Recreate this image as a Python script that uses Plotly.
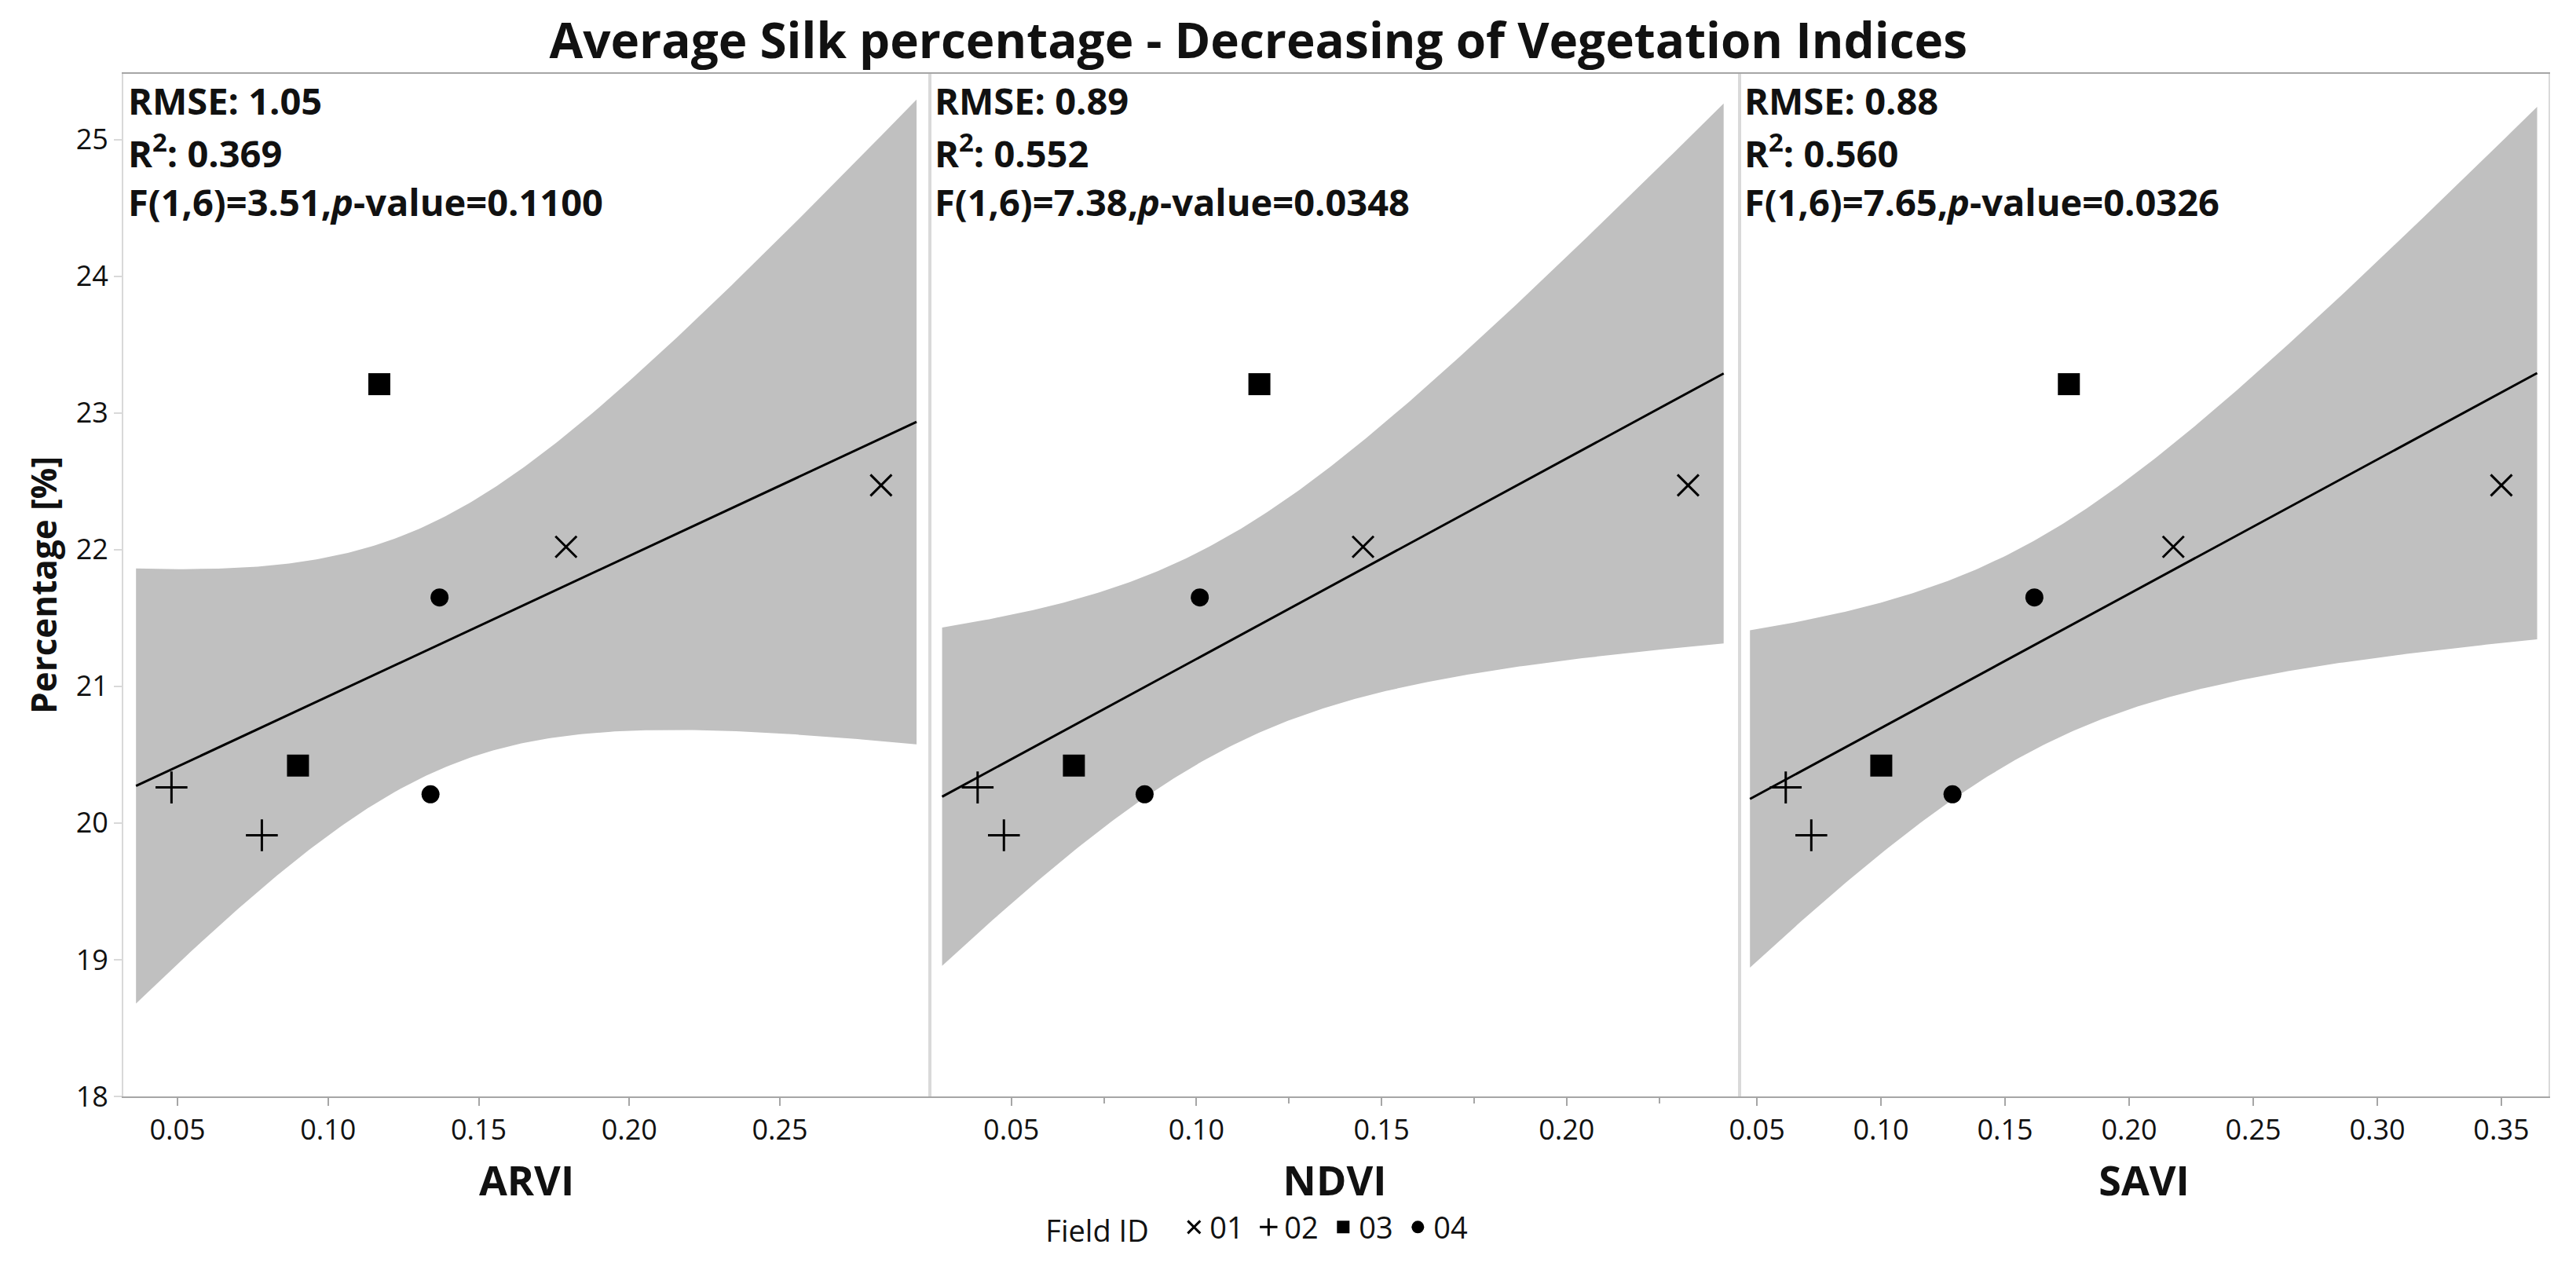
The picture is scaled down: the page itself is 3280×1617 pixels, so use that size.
import numpy as np
import plotly.graph_objects as go
from plotly.subplots import make_subplots

# ---------------- data ----------------
field_id = ["01", "01", "02", "02", "03", "03", "04", "04"]
silk_percentage = [22.47, 22.02, 20.26, 19.91, 23.21, 20.42, 21.65, 20.21]
arvi = [0.2836, 0.179, 0.048, 0.078, 0.117, 0.090, 0.137, 0.134]
ndvi = [0.2328, 0.145, 0.0409, 0.048, 0.117, 0.0669, 0.1009, 0.086]
savi = [0.350, 0.2178, 0.0616, 0.0719, 0.1757, 0.1001, 0.1618, 0.1288]

index_names = ["ARVI", "NDVI", "SAVI"]
rmse_txt = ["1.05", "0.89", "0.88"]
r2_txt = ["0.369", "0.552", "0.560"]
f_txt = ["3.51", "7.38", "7.65"]
p_txt = ["0.1100", "0.0348", "0.0326"]

fields = ["01", "02", "03", "04"]
x_ranges = [[0.032, 0.2998], [0.028, 0.2467], [0.043, 0.369]]
y_range = [18, 25.48]
y_ticks = [18, 19, 20, 21, 22, 23, 24, 25]

T_CRIT = 2.4469  # t(0.975, df=6)

# ---------------- styles ----------------
marker_style = {
    "01": dict(symbol="x-thin-open", size=27, line=dict(width=3, color="black"), color="black"),
    "02": dict(symbol="cross-thin-open", size=29, line=dict(width=3, color="black"), color="black"),
    "03": dict(symbol="square", size=28, color="black"),
    "04": dict(symbol="circle", size=23, color="black"),
}
FONT = "Open Sans"
TXT = "#111111"
AX_DARK = "#a6a6a6"
AX_LIGHT = "#d9d9d9"
BAND = "#c0c0c0"

W, H = 3280, 1617
ML, MR, MT, MB = 149, 43, 86, 229
plot_w = W - ML - MR
b1 = 1027 / plot_w
b2 = 2058 / plot_w

fig = make_subplots(rows=1, cols=3, shared_yaxes=False, horizontal_spacing=0)

xs_all = [arvi, ndvi, savi]
yv = np.array(silk_percentage)

for i, xs in enumerate(xs_all):
    col = i + 1
    xv = np.array(xs)
    n = len(xv)
    slope, intercept = np.polyfit(xv, yv, 1)
    resid = yv - (slope * xv + intercept)
    s = np.sqrt(np.sum(resid ** 2) / (n - 2))
    xbar = xv.mean()
    sxx = np.sum((xv - xbar) ** 2)
    span = xv.max() - xv.min()
    grid = np.linspace(xv.min() - 0.05 * span, xv.max() + 0.05 * span, 200)
    fit = slope * grid + intercept
    half = T_CRIT * s * np.sqrt(1.0 / n + (grid - xbar) ** 2 / sxx)

    fig.add_trace(go.Scatter(x=grid, y=fit - half, mode="lines", line=dict(width=0, color=BAND),
                             showlegend=False, hoverinfo="skip"), row=1, col=col)
    fig.add_trace(go.Scatter(x=grid, y=fit + half, mode="lines", line=dict(width=0, color=BAND),
                             fill="tonexty", fillcolor=BAND, showlegend=False, hoverinfo="skip"),
                  row=1, col=col)
    fig.add_trace(go.Scatter(x=grid, y=fit, mode="lines", line=dict(width=3, color="black"),
                             showlegend=False, hoverinfo="skip"), row=1, col=col)

    for f in fields:
        idx = [k for k, fid in enumerate(field_id) if fid == f]
        fig.add_trace(go.Scatter(
            x=[xs[k] for k in idx], y=[silk_percentage[k] for k in idx],
            mode="markers", name=f, legendgroup=f, showlegend=(i == 0),
            marker=marker_style[f]), row=1, col=col)

    # statistics text
    lines = [f"<b>RMSE: {rmse_txt[i]}</b>",
             f"<b>R<sup>2</sup>: {r2_txt[i]}</b>",
             f"<b>F(1,6)={f_txt[i]},<i>p</i>-value={p_txt[i]}</b>"]
    xref = "x domain" if i == 0 else f"x{col} domain"
    yref = "y domain" if i == 0 else f"y{col} domain"
    for yy, t in zip([0.974, 0.924, 0.875], lines):
        fig.add_annotation(x=0.004, y=yy, xref=xref, yref=yref, text=t, showarrow=False,
                           xanchor="left", yanchor="middle",
                           font=dict(family=FONT, size=47, color=TXT))

domains = [[0, b1], [b1, b2], [b2, 1]]
for i in range(3):
    col = i + 1
    xa = dict(domain=domains[i], range=x_ranges[i], showgrid=False, zeroline=False,
              showline=True, linecolor=AX_DARK, linewidth=2, mirror=True,
              ticks="outside", ticklen=10, tickwidth=1.5, tickcolor=AX_DARK,
              dtick=0.05, tickformat=".2f",
              tickfont=dict(family=FONT, size=36, color=TXT),
              title=dict(text=f"<b>{index_names[i]}</b>", standoff=24,
                         font=dict(family=FONT, size=52, color=TXT)))
    if i == 1:
        xa["minor"] = dict(dtick=0.025, ticks="outside", ticklen=7, tickwidth=1.5, tickcolor=AX_DARK)
    fig.update_xaxes(**xa, row=1, col=col)
    ya = dict(range=y_range, showgrid=False, zeroline=False, showline=True,
              linecolor=AX_LIGHT, linewidth=2, mirror=True)
    if i == 0:
        ya.update(tickvals=y_ticks, ticks="outside", ticklen=10, tickwidth=1.5, tickcolor=AX_LIGHT,
                  tickfont=dict(family=FONT, size=36, color=TXT),
                  title=dict(text="<b>Percentage [%]</b>", standoff=10,
                             font=dict(family=FONT, size=44, color=TXT)))
    else:
        ya.update(showticklabels=False, ticks="")
    fig.update_yaxes(**ya, row=1, col=col)

fig.update_layout(
    width=W, height=H, autosize=False,
    margin=dict(l=ML, r=MR, t=MT, b=MB),
    paper_bgcolor="white", plot_bgcolor="white",
    title=dict(text="<b>Average Silk percentage - Decreasing of Vegetation Indices</b>",
               x=0.468, xref="paper", xanchor="center",
               y=1 - 44 / H, yref="container", yanchor="middle",
               font=dict(family=FONT, size=62, color=TXT)),
    legend=dict(orientation="h", x=0.469, xanchor="center", y=-0.128, yanchor="middle",
                title=dict(text="Field ID   ", side="left", font=dict(family=FONT, size=38, color=TXT)),
                font=dict(family=FONT, size=38, color=TXT), itemsizing="trace",
                entrywidth=50, entrywidthmode="pixels", bgcolor="rgba(0,0,0,0)"),
    font=dict(family=FONT, color=TXT),
)

fig.write_html("out.html")
